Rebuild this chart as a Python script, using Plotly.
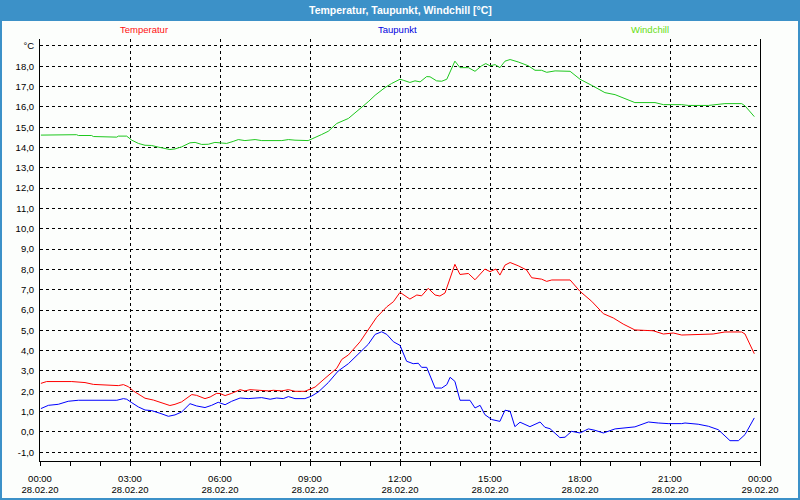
import pandas as pd
import plotly.graph_objects as go

# ---- data (hours after 28.02.20 00:00, values in °C) ----
temp_hours = [0.03, 0.22, 1.06, 1.5, 1.78, 2.22, 2.61, 2.78, 2.94, 3.11, 3.5, 3.78, 4.06, 4.33, 4.5, 4.72,
              5.06, 5.22, 5.5, 5.67, 5.89, 6.0, 6.17, 6.39, 6.67, 6.83, 7.0, 7.39, 7.61, 7.78, 8.06, 8.28,
              8.5, 8.83, 9.06, 9.17, 9.5, 9.89, 10.06, 10.28, 10.67, 10.94, 11.22, 11.56, 11.78, 12.0,
              12.33, 12.56, 12.72, 12.94, 13.17, 13.33, 13.5, 13.83, 14.0, 14.28, 14.5, 14.83, 15.0, 15.2,
              15.33, 15.5, 15.67, 15.94, 16.22, 16.39, 16.72, 16.89, 17.06, 17.67, 18.0, 18.39, 18.78,
              19.11, 19.44, 19.83, 20.44, 20.78, 21.11, 21.39, 22.44, 22.83, 23.39, 23.5, 23.81]
temp_values = [2.39, 2.48, 2.48, 2.43, 2.34, 2.31, 2.28, 2.33, 2.23, 2.02, 1.66, 1.57, 1.44, 1.30, 1.36, 1.48,
               1.84, 1.80, 1.64, 1.72, 1.90, 1.89, 1.79, 1.90, 2.08, 2.02, 2.08, 2.02, 2.02, 2.05, 2.02, 2.08,
               2.00, 2.00, 2.15, 2.21, 2.64, 3.13, 3.57, 3.79, 4.44, 5.05, 5.64, 6.16, 6.41, 6.87,
               6.54, 6.74, 6.70, 7.07, 6.74, 6.69, 6.84, 8.25, 7.75, 7.80, 7.49, 8.02, 7.89, 8.02,
               7.72, 8.21, 8.34, 8.18, 7.97, 7.59, 7.52, 7.41, 7.48, 7.48, 6.92, 6.43, 5.82,
               5.61, 5.31, 5.02, 4.98, 4.82, 4.87, 4.77, 4.82, 4.92, 4.92, 4.82, 3.85]

dew_hours = [0.03, 0.28, 0.61, 0.94, 1.28, 2.56, 2.78, 2.89, 3.06, 3.28, 3.5, 3.72, 4.0, 4.28, 4.5, 4.72,
             5.0, 5.22, 5.5, 5.72, 5.94, 6.17, 6.39, 6.67, 6.94, 7.39, 7.67, 7.89, 8.11, 8.28, 8.5, 8.83,
             9.06, 9.28, 9.61, 9.94, 10.28, 10.61, 10.94, 11.17, 11.39, 11.56, 11.78, 12.0, 12.22, 12.44,
             12.61, 12.72, 12.89, 13.17, 13.39, 13.56, 13.67, 13.83, 14.0, 14.33, 14.5, 14.67, 14.83,
             15.06, 15.33, 15.5, 15.67, 15.83, 16.0, 16.33, 16.67, 16.83, 17.0, 17.33, 17.5, 17.72, 18.0,
             18.28, 18.5, 18.78, 19.17, 19.83, 20.28, 20.61, 20.94, 21.39, 21.5, 21.94, 22.28, 22.61,
             23.0, 23.28, 23.5, 23.81]
dew_values = [1.15, 1.31, 1.36, 1.51, 1.56, 1.56, 1.64, 1.61, 1.44, 1.23, 1.08, 1.05, 0.92, 0.77, 0.84, 0.98,
              1.39, 1.28, 1.20, 1.31, 1.46, 1.34, 1.51, 1.67, 1.64, 1.69, 1.61, 1.67, 1.64, 1.74, 1.64, 1.64,
              1.77, 1.97, 2.43, 3.00, 3.36, 3.82, 4.31, 4.80, 4.93, 4.80, 4.44, 4.26, 3.48, 3.36,
              3.38, 3.18, 3.18, 2.16, 2.16, 2.33, 2.69, 2.49, 1.56, 1.56, 1.18, 1.31, 0.85,
              0.61, 0.52, 1.07, 1.02, 0.26, 0.48, 0.26, 0.49, 0.23, 0.16, -0.28, -0.26, 0.03, -0.05,
              0.15, 0.08, -0.05, 0.15, 0.25, 0.49, 0.44, 0.41, 0.41, 0.44, 0.38, 0.28, 0.11,
              -0.43, -0.43, -0.13, 0.69]

chill_hours = [0.03, 1.22, 1.28, 1.72, 1.78, 2.22, 2.28, 2.56, 2.61, 2.89, 3.06, 3.28, 3.5, 3.72, 3.94, 4.17,
               4.33, 4.5, 4.72, 5.0, 5.17, 5.39, 5.61, 5.83, 6.0, 6.22, 6.44, 6.61, 6.83, 7.17, 7.39, 8.06,
               8.28, 8.5, 8.94, 9.06, 9.39, 9.61, 9.89, 10.28, 10.67, 10.94, 11.17, 11.5, 11.72, 11.83,
               12.0, 12.11, 12.33, 12.5, 12.67, 12.89, 13.0, 13.22, 13.39, 13.56, 13.83, 14.0, 14.28,
               14.5, 14.72, 14.86, 15.0, 15.17, 15.33, 15.5, 15.67, 15.94, 16.28, 16.5, 16.72, 16.89,
               17.17, 17.67, 18.0, 18.44, 18.83, 19.17, 19.5, 19.83, 20.5, 20.78, 21.39, 21.61, 22.28,
               22.83, 23.39, 23.5, 23.81]
chill_values = [14.61, 14.63, 14.59, 14.59, 14.54, 14.54, 14.51, 14.51, 14.56, 14.56, 14.36, 14.20, 14.11,
                14.10, 14.02, 13.95, 13.90, 13.93, 14.03, 14.23, 14.25, 14.15, 14.16, 14.25, 14.23, 14.20,
                14.30, 14.39, 14.34, 14.39, 14.34, 14.34, 14.39, 14.36, 14.34, 14.41, 14.64, 14.80, 15.18,
                15.43, 15.89, 16.25, 16.57, 16.95, 17.15, 17.23, 17.36, 17.31, 17.20, 17.28, 17.23, 17.49,
                17.48, 17.28, 17.26, 17.36, 18.25, 17.93, 17.93, 17.75, 18.02, 18.13, 18.02, 18.08, 17.93,
                18.25, 18.33, 18.21, 18.02, 17.80, 17.80, 17.70, 17.77, 17.75, 17.36, 17.02, 16.70, 16.60,
                16.41, 16.21, 16.21, 16.11, 16.11, 16.07, 16.07, 16.16, 16.16, 16.05, 15.52]

series_names = ["Temperatur", "Taupunkt", "Windchill"]
series_colors = ["#ff0000", "#0000ff", "#1ec81e"]
legend_text_colors = ["#ff1010", "#0000e0", "#66dd11"]

y_tick_values = list(range(-1, 20))
y_tick_labels = [f"{v},0" for v in range(-1, 19)] + ["°C"]

x_tick_hours = list(range(0, 25, 3))
x_time_labels = ["00:00", "03:00", "06:00", "09:00", "12:00", "15:00", "18:00", "21:00", "00:00"]
x_date_labels = ["28.02.20"] * 8 + ["29.02.20"]

start = pd.Timestamp("2020-02-28 00:00")


def to_time(hours):
    return [start + pd.Timedelta(hours=h) for h in hours]


FONT = "Liberation Sans, Arial, sans-serif"
BG = "#fcfefc"
BLUE = "#3c91c8"

fig = go.Figure()
for name, hrs, vals, col in zip(series_names,
                                [temp_hours, dew_hours, chill_hours],
                                [temp_values, dew_values, chill_values],
                                series_colors):
    fig.add_trace(go.Scatter(x=to_time(hrs), y=vals, mode="lines", name=name,
                             line=dict(color=col, width=1), showlegend=False))

# invisible trace for the second (date) x axis
fig.add_trace(go.Scatter(x=to_time([0, 24]), y=[None, None], xaxis="x2", showlegend=False,
                         hoverinfo="skip"))

x_range = [start, start + pd.Timedelta(hours=24)]
tick_times = to_time(x_tick_hours)

L, R, T, B = 40, 40, 39, 39
W, H = 800, 500
pw, ph = W - L - R, H - T - B


def px_x(X):
    return (X - L) / pw


def px_y(Y):
    return (H - B - Y) / ph


fig.update_layout(
    width=W, height=H,
    margin=dict(l=L, r=R, t=T, b=B, pad=0, autoexpand=False),
    paper_bgcolor=BG, plot_bgcolor=BG,
    font=dict(family=FONT, size=9, color="#000000"),
    xaxis=dict(
        type="date", range=x_range, automargin=False,
        tickmode="array", tickvals=tick_times, ticktext=x_time_labels,
        showgrid=True, gridcolor="#000000", griddash="3px,3px", gridwidth=1,
        showline=True, linecolor="#000000", linewidth=1,
        ticks="outside", ticklen=4, tickcolor="#000000", tickwidth=1,
        minor=dict(dtick=3600000, ticks="outside", ticklen=4, tickcolor="#000000", showgrid=False),
        tickfont=dict(family=FONT, size=9.5, color="#000000"),
        ticklabelstandoff=5,
        zeroline=False, fixedrange=True,
    ),
    xaxis2=dict(
        type="date", range=x_range, overlaying="x", side="bottom", anchor="y", automargin=False,
        tickmode="array", tickvals=tick_times, ticktext=x_date_labels,
        showgrid=False, showline=False, ticks="", zeroline=False,
        tickfont=dict(family=FONT, size=9.5, color="#000000"),
        ticklabelstandoff=21,
    ),
    yaxis=dict(
        range=[-1.43, 19.34], automargin=False,
        tickmode="array", tickvals=y_tick_values, ticktext=y_tick_labels,
        showgrid=True, gridcolor="#000000", griddash="3px,3px", gridwidth=1,
        showline=True, linecolor="#000000", linewidth=1, mirror=True,
        ticks="", ticklabelstandoff=3,
        tickfont=dict(family=FONT, size=9.5, color="#000000"),
        zeroline=False, fixedrange=True,
    ),
    shapes=[
        dict(type="rect", xref="paper", yref="paper",
             x0=px_x(1), x1=px_x(799), y0=px_y(499), y1=px_y(1),
             line=dict(color=BLUE, width=2), fillcolor="rgba(0,0,0,0)", layer="above"),
        dict(type="rect", xref="paper", yref="paper",
             x0=px_x(0), x1=px_x(800), y0=px_y(21), y1=px_y(0),
             line=dict(width=0), fillcolor=BLUE, layer="above"),
    ],
    annotations=[
        dict(text="<b>Temperatur, Taupunkt, Windchill [°C]</b>", xref="paper", yref="paper",
             x=px_x(400), y=px_y(10.5), xanchor="center", yanchor="middle", showarrow=False,
             font=dict(family=FONT, size=10.5, color="#ffffff")),
    ] + [
        dict(text=n, xref="paper", yref="paper", x=px_x(cx), y=px_y(30),
             xanchor="center", yanchor="middle", showarrow=False,
             font=dict(family=FONT, size=9.5, color=c))
        for n, cx, c in zip(series_names, [144, 397, 650], legend_text_colors)
    ],
)

fig.write_html("out.html")
